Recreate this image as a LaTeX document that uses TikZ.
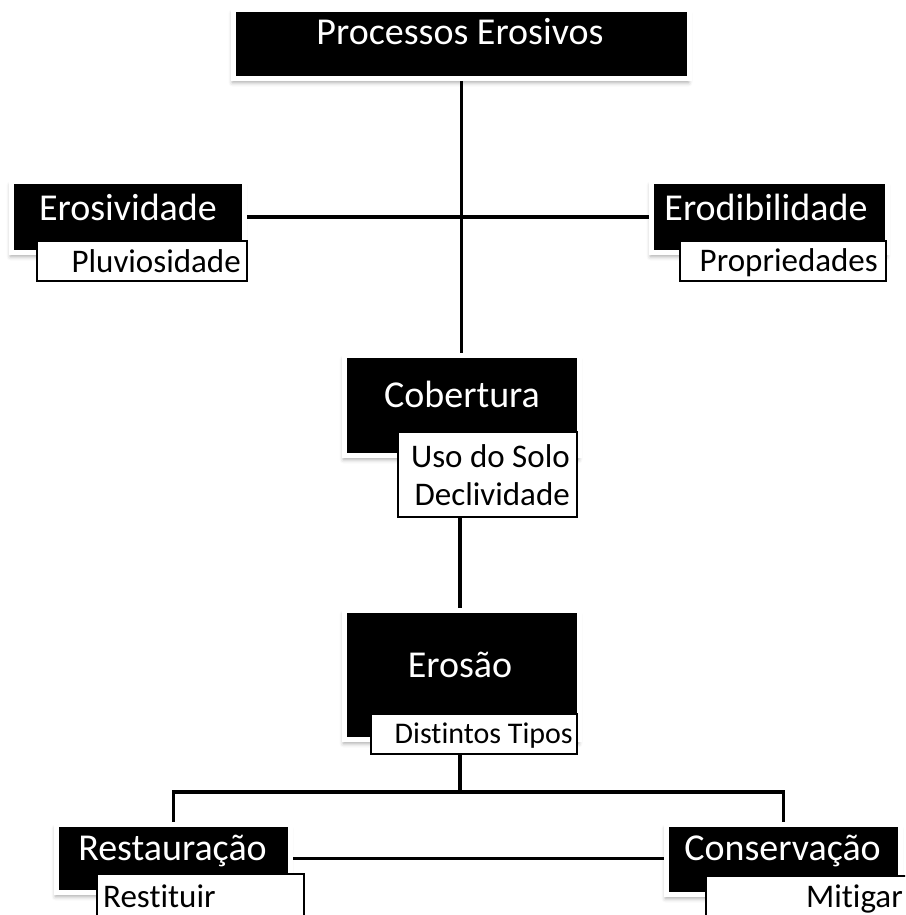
\documentclass[tikz,border=0pt]{standalone}
\usepackage{fontspec}
\setmainfont[Ligatures=NoCommon]{Carlito}
\usetikzlibrary{shadows.blur,backgrounds}

\tikzset{
  caixa/.style={fill=black, draw=white, line width=5pt, inner sep=0pt,
    blur shadow={shadow xshift=-1pt, shadow yshift=-4pt, shadow blur radius=4pt, shadow opacity=35}},
  sub/.style={fill=white, draw=black, line width=2pt, inner sep=0pt},
  titulo/.style={text=white, font=\fontsize{38}{42}\selectfont, inner sep=0pt},
  texto/.style={text=black, font=\fontsize{33}{38}\selectfont, inner sep=0pt},
  linha/.style={line width=3.5pt, black}
}

\begin{document}
\begin{tikzpicture}[x=1pt,y=-1pt]
\useasboundingbox (0,0) rectangle (905,915);
\clip (0,0) rectangle (905,915);

% caixas pretas
\node[caixa, minimum width=456pt, minimum height=69pt] (proc) at (461.5,44) {};
\node[caixa, minimum width=233pt, minimum height=71pt] (erosiv) at (128,217) {};
\node[caixa, minimum width=236pt, minimum height=71pt] (erodib) at (769.5,217) {};
\node[caixa, minimum width=235pt, minimum height=100pt] (cob) at (462,405.5) {};
\node[caixa, minimum width=235pt, minimum height=129pt] (eros) at (462,675) {};
\node[caixa, minimum width=234pt, minimum height=68pt] (rest) at (173.5,858.5) {};
\node[caixa, minimum width=234pt, minimum height=70pt] (cons) at (783.5,859.5) {};

% caixas brancas
\node[sub, minimum width=210pt, minimum height=40pt] (pluv) at (142,261) {};
\node[sub, minimum width=206pt, minimum height=40pt] (prop) at (783,261) {};
\node[sub, minimum width=179pt, minimum height=85pt] (uso) at (487.5,474.5) {};
\node[sub, minimum width=206pt, minimum height=40pt] (dist) at (474,734) {};
\node[sub, minimum width=207pt, minimum height=50pt] (resti) at (200.5,899) {};
\node[sub, minimum width=208pt, minimum height=48pt] (mitig) at (810,900) {};

% textos
\node[titulo, anchor=base] (tproc) at (460,45) {Processos Erosivos};
\node[titulo, anchor=base] (terosiv) at (128,220) {Erosividade};
\node[texto, anchor=base east] (tpluv) at (241,272) {Pluviosidade};
\node[titulo, anchor=base] (terodib) at (766,220) {Erodibilidade};
\node[texto, anchor=base east] (tprop) at (878,271) {Propriedades};
\node[titulo, anchor=base] (tcob) at (462,407) {Cobertura};
\node[texto, anchor=base east] (tuso) at (570,467) {Uso do Solo};
\node[texto, anchor=base east] (tdecl) at (570,505) {Declividade};
\node[titulo, anchor=base] (teros) at (460,677) {Erosão};
\node[texto, font=\fontsize{30}{34}\selectfont, anchor=base east] (tdist) at (573,743) {Distintos Tipos};
\node[titulo, anchor=base] (trest) at (172.5,860) {Restauração};
\node[texto, anchor=base west] (tresti) at (103,907) {Restituir};
\node[titulo, anchor=base] (tcons) at (782.5,860) {Conservação};
\node[texto, anchor=base east] (tmitig) at (903,907) {Mitigar};

% ligacoes
\coordinate (bif) at (460,792);
\begin{scope}[on background layer]
\draw[linha] (proc.south) -- (proc.south |- cob.north);
\draw[linha] (erosiv.east) -- (erodib.west);
\draw[linha] (uso.south -| bif) -- (eros.north -| bif);
\draw[linha] (dist.south -| bif) -- (bif);
\draw[linha] (rest.north) |- (bif) -| (cons.north);
\draw[linha] (rest.east) -- (rest.east -| cons.west);
\end{scope}
\end{tikzpicture}
\end{document}
